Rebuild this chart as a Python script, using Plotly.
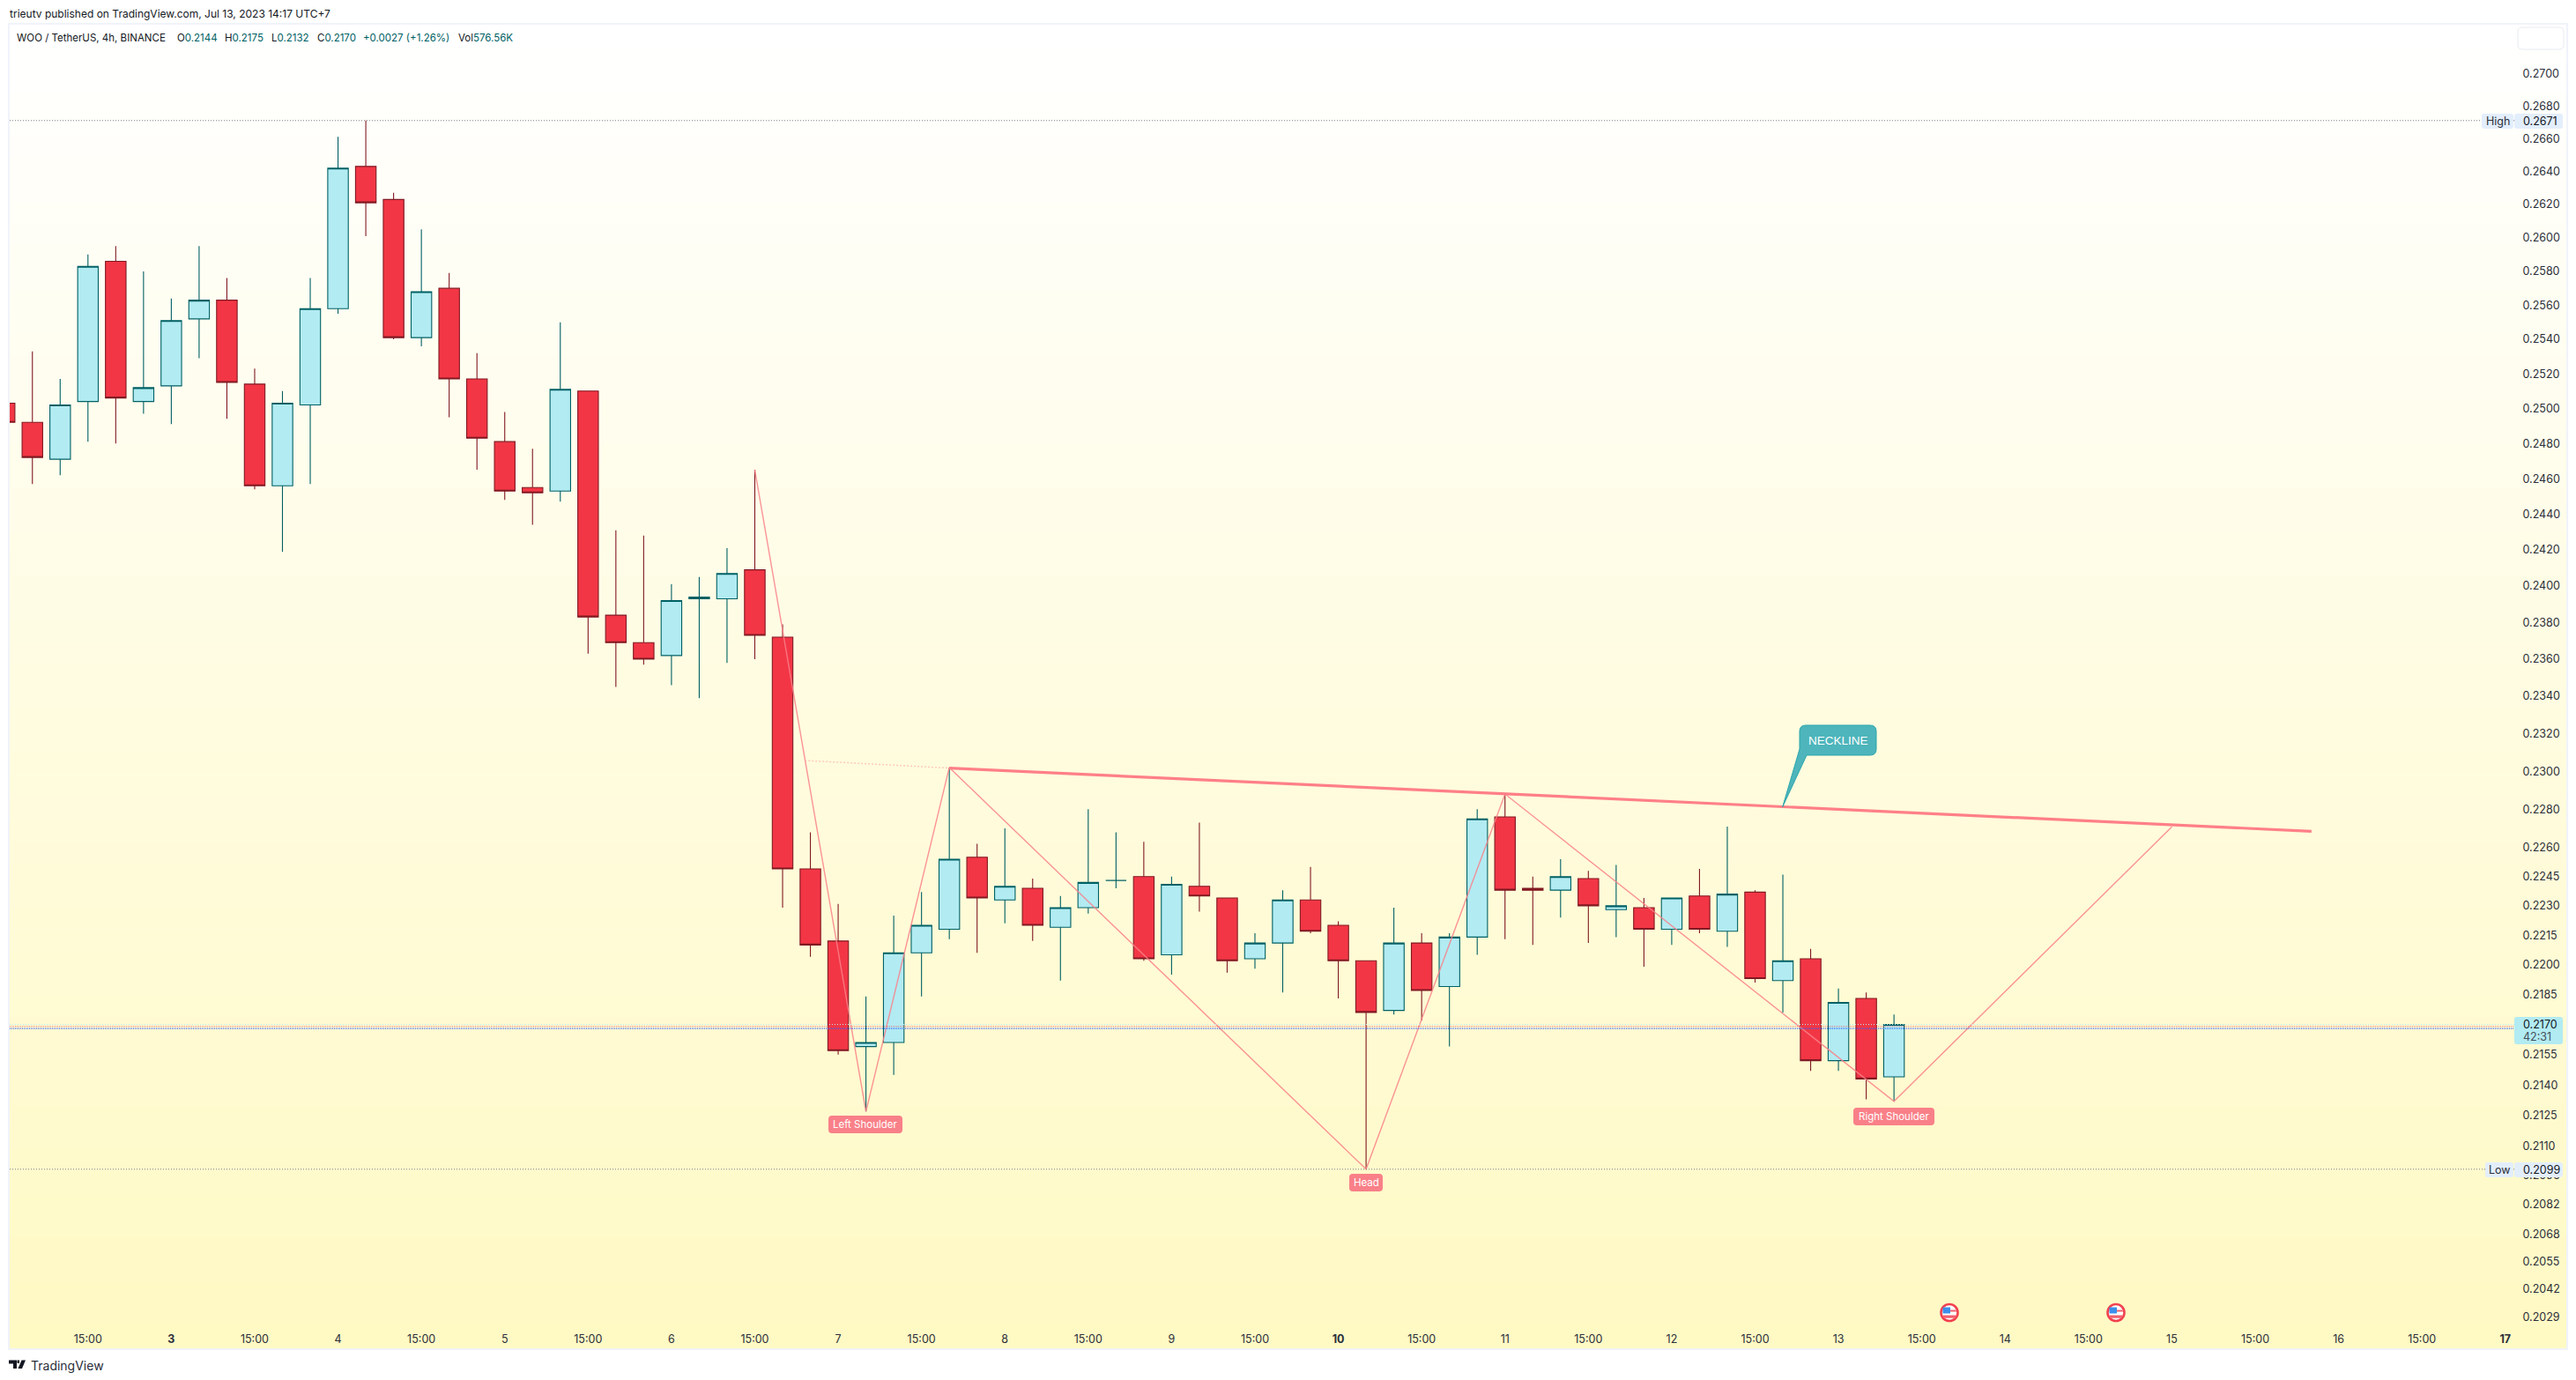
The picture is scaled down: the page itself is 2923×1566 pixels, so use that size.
import math
import pandas as pd
import plotly.graph_objects as go

W, H = 2923, 1566
PL, PR, PT, PB = 11, 2853, 28, 1505   # plot box in page pixels

open_ = [.2503,.2492,.2471,.2504,.2586,.2504,.2513,.2552,.2563,.2514,.2456,.2502,.2558,.2643,.2623,.2541,.2570,.2517,.2481,.2455,.2453,.2510,.2384,.2369,.2362,.2393,.2393,.2409,.2372,.2249,.2212,.2159,.2161,.2206,.2218,.2255,.2233,.2239,.2219,.2229,.2243,.2245,.2205,.2240,.2234,.2203,.2211,.2233,.2220,.2202,.2177,.2211,.2189,.2214,.2276,.2239,.2238,.2244,.2228,.2229,.2218,.2235,.2217,.2237,.2192,.2203,.2152,.2183,.2144]
high = [.2510,.2533,.2517,.2590,.2595,.2580,.2564,.2595,.2576,.2523,.2510,.2576,.2661,.2671,.2627,.2605,.2579,.2532,.2498,.2477,.2550,.2510,.2431,.2428,.2401,.2405,.2421,.2465,.2379,.2268,.2231,.2184,.2225,.2237,.2302,.2262,.2270,.2244,.2235,.2280,.2268,.2263,.2245,.2273,.2234,.2216,.2238,.2250,.2222,.2202,.2229,.2216,.2216,.2280,.2288,.2245,.2254,.2248,.2251,.2234,.2234,.2249,.2271,.2238,.2246,.2208,.2188,.2186,.2175]
low = [.2485,.2457,.2462,.2481,.2480,.2497,.2491,.2529,.2494,.2454,.2419,.2457,.2555,.2601,.2540,.2536,.2495,.2465,.2448,.2434,.2447,.2363,.2345,.2357,.2346,.2339,.2358,.2360,.2229,.2204,.2155,.2127,.2145,.2184,.2213,.2206,.2221,.2212,.2192,.2226,.2239,.2202,.2195,.2227,.2196,.2198,.2186,.2216,.2183,.2099,.2175,.2172,.2159,.2205,.2213,.2210,.2224,.2211,.2214,.2199,.2210,.2216,.2209,.2191,.2176,.2147,.2147,.2133,.2132]
close = [.2492,.2472,.2502,.2583,.2506,.2512,.2551,.2563,.2515,.2456,.2503,.2558,.2642,.2621,.2541,.2568,.2517,.2483,.2453,.2452,.2511,.2383,.2369,.2360,.2392,.2394,.2407,.2373,.2249,.2210,.2157,.2161,.2206,.2220,.2254,.2234,.2240,.2220,.2229,.2242,.2243,.2203,.2241,.2235,.2202,.2211,.2233,.2217,.2202,.2176,.2211,.2187,.2214,.2275,.2238,.2238,.2245,.2230,.2230,.2218,.2234,.2218,.2236,.2193,.2202,.2152,.2181,.2143,.2170]
times = pd.date_range("2023-07-02 03:00", periods=len(open_), freq="4h")

zigzag_t = ["2023-07-06 15:00", "2023-07-07 07:00", "2023-07-07 19:00", "2023-07-10 07:00", "2023-07-11 03:00", "2023-07-13 11:00", "2023-07-15 03:00"]
zigzag_p = [.2465, .2127, .2302, .2099, .2288, .2132, .22708]
neck_t = ["2023-07-07 19:00", "2023-07-15 23:06"]
neck_p = [.23017, .22685]
neck_ext_t = ["2023-07-06 22:12", "2023-07-07 19:00"]
neck_ext_p = [.23057, .23017]

price_ticks = [.2700,.2680,.2660,.2640,.2620,.2600,.2580,.2560,.2540,.2520,.2500,.2480,.2460,.2440,.2420,.2400,.2380,.2360,.2340,.2320,.2300,.2280,.2260,.2245,.2230,.2215,.2200,.2185,.2155,.2140,.2125,.2110,.2096,.2082,.2068,.2055,.2042,.2029]
time_tick_vals = []
time_tick_text = []
time_tick_vals.append("2023-07-02 15:00"); time_tick_text.append("15:00")
for day in range(3, 18):
    time_tick_vals.append(f"2023-07-{day:02d} 03:00")
    time_tick_text.append(f"<b>{day}</b>" if day in (3, 10, 17) else str(day))
    if day < 17:
        time_tick_vals.append(f"2023-07-{day:02d} 15:00")
        time_tick_text.append("15:00")

HIGH_P, LOW_P, LAST_P, ASK_P, BID_P = .2671, .2099, .2170, .2169, .2168
X_RANGE = ["2023-07-02 03:44", "2023-07-17 04:18"]
Y_RANGE = [.20246, .27305]

FONT = "Inter"
UP_FILL, UP_LINE = "#B2EBF2", "#006064"
DN_FILL, DN_LINE = "#F23645", "#801922"
TXT = "#2A2E39"


def px(x):
    return (x - PL) / (PR - PL)


def py(y):
    return 1 - (y - PT) / (PB - PT)


def rr(x0, y0, x1, y1, r):
    a, b, c, d = px(x0), py(y0), px(x1), py(y1)
    rx, ry = r / (PR - PL), r / (PB - PT)
    return (f"M{a+rx},{b} L{c-rx},{b} Q{c},{b} {c},{b-ry} L{c},{d+ry} Q{c},{d} {c-rx},{d} "
            f"L{a+rx},{d} Q{a},{d} {a},{d+ry} L{a},{b-ry} Q{a},{b} {a+rx},{b} Z")


shapes = []
# background gradient, page frame
N = 60
FT, FB, FL, FR = 28, 1530, 11, 2912
for i in range(N):
    t = i / (N - 1)
    g = round(255 - 6 * t)
    b = round(255 - 59 * t)
    y0 = FT + (FB - FT) * i / N
    y1 = FT + (FB - FT) * (i + 1) / N + 0.5
    shapes.append(dict(type="rect", xref="paper", yref="paper", layer="below", x0=px(FL), x1=px(FR),
                       y0=py(y0), y1=py(min(y1, FB)), line_width=0, fillcolor=f"rgb(255,{g},{b})"))
shapes.append(dict(type="rect", xref="paper", yref="paper", layer="below", x0=px(FL - 1), x1=px(FR + 1),
                   y0=py(FT - 1), y1=py(FB + 1), line=dict(color="#F0F3FA", width=2), fillcolor="rgba(0,0,0,0)"))


def path(d, fill, line=None, lw=0):
    shapes.append(dict(type="path", xref="paper", yref="paper", layer="above", path=d, fillcolor=fill,
                       line=dict(color=line or fill, width=lw)))


# empty box top right
path(rr(2857, 31, 2909, 56, 5), "rgba(255,255,255,0.9)", "#E8EAF0", 1)
# price badges
path(rr(2816, 129, 2852, 146, 3), "#E3EEFC")
path(rr(2853, 129, 2908, 146, 3), "#E3EEFC")
path(rr(2820, 1319, 2852, 1336, 3), "#E3EEFC")
path(rr(2853, 1319, 2908, 1336, 3), "#E3EEFC")
path(rr(2853, 1154, 2908, 1185, 3), UP_FILL)
# pattern labels
LABEL_FILL = "#F98088"
path(rr(940, 1266, 1024, 1286, 4), LABEL_FILL)
path(rr(1531, 1332, 1569, 1352, 4), LABEL_FILL)
path(rr(2103, 1257, 2195, 1277, 4), LABEL_FILL)
# NECKLINE callout
a, b, c, d = 2042, 823, 2129, 857
r = 7
cp = (f"M{px(a+r)},{py(b)} L{px(c-r)},{py(b)} Q{px(c)},{py(b)} {px(c)},{py(b+r)} L{px(c)},{py(d-r)} "
      f"Q{px(c)},{py(d)} {px(c-r)},{py(d)} L{px(2050)},{py(d)} L{px(2022.7)},{py(915.7)} L{px(a)},{py(850)} "
      f"L{px(a)},{py(b+r)} Q{px(a)},{py(b)} {px(a+r)},{py(b)} Z")
path(cp, "#4DB5BB", "#2BA5AD", 1)
# economic-event flags
for cx in (2212, 2401):
    cy = 1489.5
    for rad, col in ((10.8, "#F2414F"), (8.2, "#FFFFFF")):
        shapes.append(dict(type="circle", xref="paper", yref="paper", layer="above", x0=px(cx - rad), x1=px(cx + rad),
                           y0=py(cy + rad), y1=py(cy - rad), line_width=0, fillcolor=col))
    path(f"M{px(cx-7.5)},{py(cy-6)} L{px(cx+1)},{py(cy-6)} L{px(cx+1)},{py(cy+1)} L{px(cx-7.5)},{py(cy+1)} Z", "#3D8FEA")
    path(f"M{px(cx+1)},{py(cy-3)} L{px(cx+7.5)},{py(cy-3)} L{px(cx+7.8)},{py(cy-1)} L{px(cx+1)},{py(cy-1)} Z", "#F2606C")
    path(f"M{px(cx-7.8)},{py(cy+3)} L{px(cx+7.8)},{py(cy+3)} L{px(cx+6)},{py(cy+6.2)} L{px(cx-6)},{py(cy+6.2)} Z", "#F2606C")
# TradingView logo
path(f"M{px(10)},{py(1543.5)} L{px(19)},{py(1543.5)} L{px(19)},{py(1553)} L{px(15)},{py(1553)} L{px(15)},{py(1547.5)} L{px(10)},{py(1547.5)} Z", "#131722")
path(f"M{px(19.5)},{py(1543.5)} L{px(22)},{py(1543.5)} L{px(22)},{py(1547)} L{px(19.5)},{py(1547)} Z", "#131722")
path(f"M{px(24.5)},{py(1543.5)} L{px(29)},{py(1543.5)} L{px(25)},{py(1553)} L{px(20.5)},{py(1553)} Z", "#131722")

fig = go.Figure()
fig.add_trace(go.Scatter(x=zigzag_t, y=zigzag_p, mode="lines", line=dict(color="rgba(250,128,136,0.85)", width=1.4), hoverinfo="skip"))
fig.add_trace(go.Scatter(x=neck_ext_t, y=neck_ext_p, mode="lines", line=dict(color="rgba(255,170,160,0.6)", width=1.5, dash="2px,2px"), hoverinfo="skip"))
fig.add_trace(go.Scatter(x=neck_t, y=neck_p, mode="lines", line=dict(color="#FF7F87", width=3.2), hoverinfo="skip"))
fig.add_trace(go.Candlestick(
    x=times, open=open_, high=high, low=low, close=close, whiskerwidth=0, hoverinfo="skip",
    increasing=dict(fillcolor=UP_FILL, line=dict(color=UP_LINE, width=1.1)),
    decreasing=dict(fillcolor=DN_FILL, line=dict(color=DN_LINE, width=1.1)),
))
for p, col, dash, lw in ((HIGH_P, "#787B86", "1px,2px", 1), (LOW_P, "#787B86", "1px,2px", 1), (LAST_P, "#B2EBF2", "1px,2px", 1),
                         (ASK_P, "rgba(242,54,69,0.7)", "1px,1px", 1), (BID_P, "#2962FF", "1px,1px", 1.3)):
    fig.add_trace(go.Scatter(x=X_RANGE, y=[p, p], mode="lines", line=dict(color=col, width=lw, dash=dash), hoverinfo="skip"))

ann = []


def note(x, y, text, size=12, color=TXT, anchor="left", family=FONT):
    ann.append(dict(xref="paper", yref="paper", x=px(x), y=py(y), text=text, showarrow=False, xanchor=anchor,
                    yanchor="middle", align=anchor, borderpad=0, font=dict(family=family, size=size, color=color)))


note(10, 16, "trieutv published on TradingView.com, Jul 13, 2023 14:17 UTC+7", 12, "#131722")
note(18, 43, "WOO / TetherUS, 4h, BINANCE", 11.5, "#131722")
TEAL = "#006064"
for x, lab, val in ((199.5, "O", "0.2144"), (254, "H", "0.2175"), (307, "L", "0.2132"), (358.7, "C", "0.2170"), (519, "Vol", "576.56K")):
    note(x, 43, f'{lab}<span style="color:{TEAL}">{val}</span>', 11.5, "#131722")
note(411, 43, "+0.0027 (+1.26%)", 11.5, TEAL)
note(2834, 137.3, "High", 12.5, TXT, "center")
note(2861.7, 137.3, "0.2671", 12.5, "#131722")
note(2836, 1327.6, "Low", 12.5, TXT, "center")
note(2861.7, 1327.6, "0.2099", 12.5, "#131722")
note(2861.7, 1162.7, "0.2170", 12.5, "#131722")
note(2861.7, 1176.7, "42:31", 12.5, "#44505A")
note(982, 1276, "Left Shoulder", 11.5, "#FFFFFF", "center")
note(1550, 1342, "Head", 11.5, "#FFFFFF", "center")
note(2149, 1267, "Right Shoulder", 11.5, "#FFFFFF", "center")
note(2085.7, 840, "NECKLINE", 13.5, "#FFFFFF", "center", "Liberation Sans")
note(34, 1549.5, "TradingView", 14, "#2A2E39")

fig.update_layout(
    width=W, height=H, autosize=False,
    margin=dict(l=PL, r=W - PR, t=PT, b=H - PB, pad=0),
    paper_bgcolor="#FFFFFF", plot_bgcolor="rgba(0,0,0,0)",
    showlegend=False, boxmode="overlay", boxgap=0.26, boxgroupgap=0, hovermode=False,
    shapes=shapes, annotations=ann,
    font=dict(family=FONT, size=12.5, color=TXT),
    xaxis=dict(type="date", range=X_RANGE, rangeslider=dict(visible=False), showgrid=False, zeroline=False, showline=False,
               tickmode="array", tickvals=time_tick_vals, ticktext=time_tick_text, ticks="outside", ticklen=3,
               tickcolor="rgba(0,0,0,0)", tickangle=0, tickfont=dict(family=FONT, size=12.5, color=TXT)),
    yaxis=dict(type="log", side="right", range=[math.log10(v) for v in Y_RANGE], showgrid=False, zeroline=False, showline=False,
               tickmode="array", tickvals=price_ticks, ticktext=[f"{v:.4f}" for v in price_ticks], ticks="outside", ticklen=6,
               tickcolor="rgba(0,0,0,0)", tickfont=dict(family=FONT, size=12.5, color=TXT)),
)
fig.write_html("out.html", config=dict(displayModeBar=False), post_script="document.body.style.margin='0';")
